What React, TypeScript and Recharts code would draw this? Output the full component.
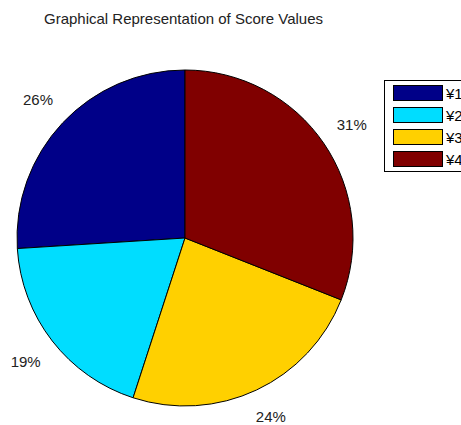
import { Cell, Legend, Pie, PieChart } from "recharts";

const categories = ["¥1", "¥2", "¥3", "¥4"];
const scores = [26, 19, 24, 31];
const colors = ["#000088", "#00DDFF", "#FFD000", "#800000"];

const FONT = "'Liberation Sans', Arial, sans-serif";
const RADIAN = Math.PI / 180;

const data = categories.map((name, i) => ({ name, value: scores[i] }));

const renderLabel = (props: any) => {
  const { cx, cy, midAngle, outerRadius, percent } = props;
  const r = outerRadius * 1.2;
  const x = cx + r * Math.cos(-midAngle * RADIAN);
  // keep the bottom label inside the frame
  const y = Math.min(cy + r * Math.sin(-midAngle * RADIAN), 416);
  return (
    <text
      x={x}
      y={y}
      textAnchor="middle"
      dominantBaseline="central"
      fontFamily={FONT}
      fontSize={15}
      fill="#222"
    >
      {`${Math.round(percent * 100)}%`}
    </text>
  );
};

const renderLegend = () => (
  <div
    style={{
      border: "1px solid #000",
      background: "#fff",
      width: 120,
      padding: "1px 0 1px 8px",
      boxSizing: "border-box",
    }}
  >
    {categories.map((c, i) => (
      <div
        key={c}
        style={{ display: "flex", alignItems: "center", height: 22 }}
      >
        <span
          style={{
            width: 48,
            height: 14,
            background: colors[i],
            border: "1px solid #000",
            display: "inline-block",
          }}
        />
        <span
          style={{
            marginLeft: 3,
            fontFamily: FONT,
            fontSize: 15,
            color: "#000",
          }}
        >
          {c}
        </span>
      </div>
    ))}
  </div>
);

export default function App() {
  return (
    <div
      style={{
        position: "absolute",
        left: 0,
        top: 0,
        width: 461,
        height: 425,
        overflow: "hidden",
        background: "#fff",
      }}
    >
      <div
        style={{
          position: "absolute",
          top: 10,
          left: 0,
          width: 367,
          textAlign: "center",
          fontFamily: FONT,
          fontSize: 15,
          color: "#222",
        }}
      >
        Graphical Representation of Score Values
      </div>
      <PieChart
        width={461}
        height={425}
        margin={{ top: 0, right: 0, bottom: 0, left: 0 }}
      >
        <Pie
          data={data}
          dataKey="value"
          nameKey="name"
          cx={185}
          cy={238}
          outerRadius={168}
          startAngle={90}
          endAngle={450}
          stroke="#000"
          strokeWidth={1}
          label={renderLabel}
          labelLine={false}
          isAnimationActive={false}
        >
          {data.map((d, i) => (
            <Cell key={d.name} fill={colors[i]} />
          ))}
        </Pie>
        <Legend
          content={renderLegend}
          wrapperStyle={{ position: "absolute", top: 80, left: 384, width: 120 }}
        />
      </PieChart>
    </div>
  );
}
